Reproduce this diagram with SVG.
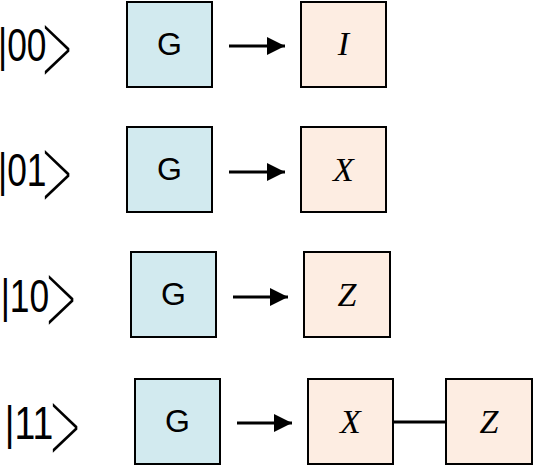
<svg xmlns="http://www.w3.org/2000/svg" width="533" height="466" viewBox="0 0 533 466">
<style>
.g{fill:#D2EAEF;stroke:#000;stroke-width:2}
.p{fill:#FDEDE2;stroke:#000;stroke-width:2}
.gt{font-family:"Liberation Sans",Arial,sans-serif;font-size:32px;text-anchor:middle;fill:#000}
.mt{font-family:"Liberation Serif","Times New Roman",serif;font-style:italic;font-size:34px;text-anchor:middle;fill:#000}
.ket{font-family:"Liberation Sans",Arial,sans-serif;font-size:46px;fill:#000}
.br{font-family:Roboto,"Liberation Sans",sans-serif;font-weight:100;font-size:40px;fill:#000}
.c{stroke:#000;stroke-width:3;fill:none}
</style>
<defs>
<marker id="ah" markerWidth="6" markerHeight="6" refX="6" refY="3" orient="auto" markerUnits="strokeWidth">
<path d="M0,0 L6,3 L0,6 Z" fill="#000"/>
</marker>
</defs>
<g id="ket00"><text class="ket" x="-2" y="61" textLength="48.5" lengthAdjust="spacingAndGlyphs">|00</text><text class="br" transform="translate(41.5,90.7) scale(1.5,3.15)">&gt;</text></g>
<g id="ket01"><text class="ket" x="-2" y="186" textLength="48.5" lengthAdjust="spacingAndGlyphs">|01</text><text class="br" transform="translate(41.5,215.7) scale(1.5,3.15)">&gt;</text></g>
<g id="ket10"><text class="ket" x="0.7" y="312" textLength="48.5" lengthAdjust="spacingAndGlyphs">|10</text><text class="br" transform="translate(45.5,340.7) scale(1.5,3.15)">&gt;</text></g>
<g id="ket11"><text class="ket" x="4.7" y="439" textLength="48.5" lengthAdjust="spacingAndGlyphs">|11</text><text class="br" transform="translate(49.5,468.7) scale(1.5,3.15)">&gt;</text></g>

<g id="g1"><rect class="g" x="127" y="2" width="85" height="85"/><text class="gt" x="169.5" y="55">G</text></g>
<g id="g2"><rect class="g" x="127" y="127" width="85" height="85"/><text class="gt" x="169.5" y="180">G</text></g>
<g id="g3"><rect class="g" x="131" y="252" width="85" height="85"/><text class="gt" x="173.5" y="305">G</text></g>
<g id="g4"><rect class="g" x="135" y="379" width="85" height="85"/><text class="gt" x="177.5" y="432">G</text></g>

<g id="i1"><rect class="p" x="301" y="2" width="85" height="85"/><text class="mt" x="343.5" y="55">I</text></g>
<g id="x2"><rect class="p" x="301" y="127" width="85" height="85"/><text class="mt" x="343.5" y="181">X</text></g>
<g id="z3"><rect class="p" x="304" y="252" width="86" height="85"/><text class="mt" x="347" y="306">Z</text></g>
<g id="x4"><rect class="p" x="308" y="379" width="85" height="85"/><text class="mt" x="350.5" y="433">X</text></g>
<g id="z4"><rect class="p" x="446" y="379" width="86" height="85"/><text class="mt" x="489" y="433">Z</text></g>

<g id="connectors">
<line class="c" x1="229" y1="46" x2="285" y2="46" marker-end="url(#ah)"/>
<line class="c" x1="229" y1="172" x2="285" y2="172" marker-end="url(#ah)"/>
<line class="c" x1="233" y1="297" x2="288" y2="297" marker-end="url(#ah)"/>
<line class="c" x1="237" y1="423" x2="292" y2="423" marker-end="url(#ah)"/>
<line class="c" x1="393" y1="422" x2="446" y2="422"/>
</g>
</svg>
